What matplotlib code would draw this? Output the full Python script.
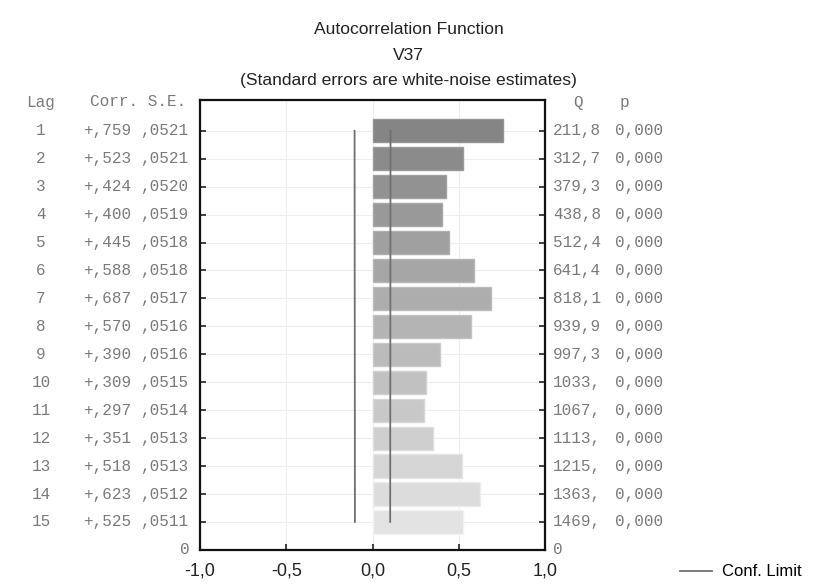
import matplotlib
matplotlib.use('Agg')
import matplotlib.pyplot as plt
import numpy as np
from matplotlib.lines import Line2D
from matplotlib.transforms import blended_transform_factory

# ACF table values
lags = list(range(1, 16))
corr = [0.759, 0.523, 0.424, 0.400, 0.445, 0.588, 0.687, 0.570,
        0.390, 0.309, 0.297, 0.351, 0.518, 0.623, 0.525]
se = [0.0521, 0.0521, 0.0520, 0.0519, 0.0518, 0.0518, 0.0517, 0.0516,
      0.0516, 0.0515, 0.0514, 0.0513, 0.0513, 0.0512, 0.0511]
q_labels = ['211,8', '312,7', '379,3', '438,8', '512,4', '641,4', '818,1', '939,9',
            '997,3', '1033,', '1067,', '1113,', '1215,', '1363,', '1469,']
p_labels = ['0,000'] * 15
corr_labels = ['+,759', '+,523', '+,424', '+,400', '+,445', '+,588', '+,687', '+,570',
               '+,390', '+,309', '+,297', '+,351', '+,518', '+,623', '+,525']
se_labels = [',0521', ',0521', ',0520', ',0519', ',0518', ',0518', ',0517', ',0516',
             ',0516', ',0515', ',0514', ',0513', ',0513', ',0512', ',0511']
xticks = [-1.0, -0.5, 0.0, 0.5, 1.0]
xtick_labels = ['-1,0', '-0,5', '0,0', '0,5', '1,0']

mono = 'Liberation Mono'
sans = 'Liberation Sans'
tcol = '#7a7a7a'
fs_mono = 11.5

fig = plt.figure(figsize=(8.17, 5.85), dpi=100)
ax = fig.add_axes([0.245, 0.060, 0.422, 0.769])

# bar colours go from dark grey to light grey
shades = np.linspace(0.52, 0.89, len(lags))
cols = [(s, s, s) for s in shades]
edges = [(min(s + 0.06, 1),) * 3 for s in shades]
ax.barh(lags, corr, height=0.83, left=0, color=cols, edgecolor=edges, linewidth=1, zorder=2)

# confidence limits (+/- 2 SE)
lim = 2 * np.array(se)
ax.plot(-lim, lags, color='#707070', lw=1.3, zorder=3)
ax.plot(lim, lags, color='#707070', lw=1.3, zorder=3)

ax.set_xlim(-1, 1)
ax.set_ylim(16, -0.1)
ax.set_xticks(xticks)
ax.set_xticklabels(xtick_labels, fontsize=13, family=sans, color='#222222')
ax.set_yticks(lags)
ax.set_yticklabels([])
ax.tick_params(axis='both', direction='in', length=4, width=1.2, color='#222222')
ax.tick_params(axis='y', left=True, right=True)
ax.tick_params(axis='x', pad=9)
for sp in ax.spines.values():
    sp.set_linewidth(1.6)
    sp.set_color('#111111')
ax.grid(True, color='#eeeeee', lw=0.8, zorder=0)
ax.set_axisbelow(True)

# titles
tkw = dict(ha='center', va='center', fontsize=12.6, family=sans, color='#222222')
fig.text(0.5, 1 - 30 / 585, 'Autocorrelation Function', **tkw)
fig.text(0.5, 1 - 55 / 585, 'V37', **tkw)
fig.text(0.5, 1 - 80 / 585, '(Standard errors are white-noise estimates)', **tkw)


def ftx(px):
    return px / 817.0


# left and right table columns
mkw = dict(va='center', fontsize=fs_mono, family=mono, color=tcol)
hy = 1 - 102 / 585
fig.text(ftx(41), hy, 'Lag', ha='center', **mkw)
fig.text(ftx(186), hy, 'Corr. S.E.', ha='right', **mkw)
fig.text(ftx(578), hy, 'Q', ha='center', **mkw)
fig.text(ftx(624), hy, 'p', ha='center', **mkw)

tl = blended_transform_factory(fig.transFigure, ax.transData)
for i, lag in enumerate(lags):
    fig.text(ftx(41), lag, str(lag), transform=tl, ha='center', **mkw)
    fig.text(ftx(131), lag, corr_labels[i], transform=tl, ha='right', **mkw)
    fig.text(ftx(189), lag, se_labels[i], transform=tl, ha='right', **mkw)
    fig.text(ftx(553), lag, q_labels[i], transform=tl, ha='left', **mkw)
    fig.text(ftx(615), lag, p_labels[i], transform=tl, ha='left', **mkw)
fig.text(ftx(190), 16, '0', transform=tl, ha='right', **mkw)
fig.text(ftx(553), 16, '0', transform=tl, ha='left', **mkw)

# legend
fig.legend(handles=[Line2D([], [], color='#707070', lw=1.3)], labels=['Conf. Limit'],
           loc='center left', bbox_to_anchor=(ftx(665), 1 - 572 / 585), frameon=False,
           prop={'family': sans, 'size': 12}, handlelength=1.9, handletextpad=0.6)

fig.savefig('out.png', dpi=100)
